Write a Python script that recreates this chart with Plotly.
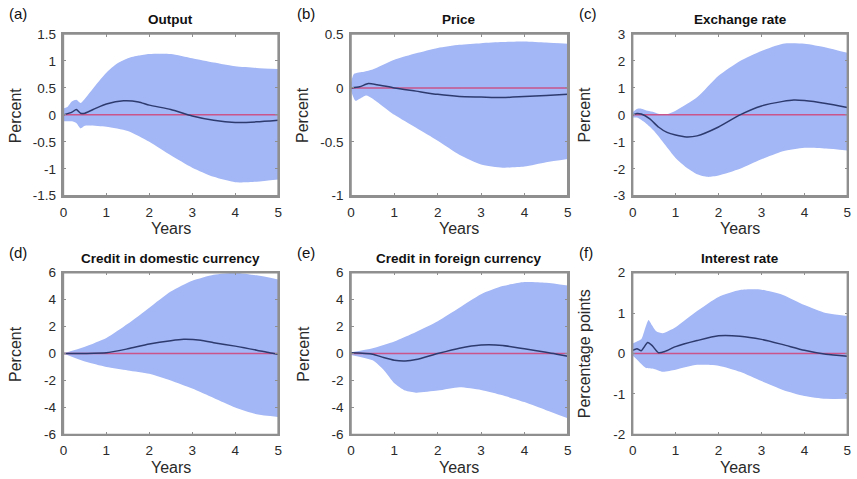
import plotly.graph_objects as go

# ---------------- data ----------------
titles = ["Output", "Price", "Exchange rate", "Credit in domestic currency",
          "Credit in foreign currency", "Interest rate"]
letters = ["(a)", "(b)", "(c)", "(d)", "(e)", "(f)"]
ylabels = ["Percent", "Percent", "Percent", "Percent", "Percent", "Percentage points"]

a_up_x = [0, 0.1, 0.2, 0.3, 0.4, 0.5, 0.75, 1, 1.25, 1.5, 1.75, 2, 2.5, 3, 3.5, 4, 4.5, 5]
a_up_y = [0.12, 0.15, 0.25, 0.28, 0.22, 0.3, 0.55, 0.78, 0.95, 1.05, 1.1, 1.13, 1.13, 1.05, 0.97, 0.9, 0.87, 0.85]
a_lo_x = [0, 0.2, 0.3, 0.4, 0.5, 1, 1.5, 2, 2.5, 3, 3.5, 4, 4.5, 5]
a_lo_y = [-0.12, -0.12, -0.15, -0.25, -0.2, -0.22, -0.3, -0.5, -0.75, -0.98, -1.15, -1.25, -1.24, -1.2]
a_md_x = [0, 0.2, 0.3, 0.4, 0.5, 0.75, 1, 1.4, 1.75, 2, 2.5, 3, 3.5, 4, 4.5, 5]
a_md_y = [0, 0.05, 0.1, 0.03, 0.03, 0.12, 0.2, 0.26, 0.24, 0.18, 0.1, -0.02, -0.1, -0.14, -0.13, -0.1]

b_up_x = [0, 0.07, 0.3, 0.5, 1, 1.5, 2, 2.5, 3, 3.5, 4, 4.5, 5]
b_up_y = [0.05, 0.13, 0.15, 0.17, 0.26, 0.32, 0.37, 0.4, 0.415, 0.425, 0.43, 0.42, 0.41]
b_lo_x = [0, 0.1, 0.2, 0.35, 0.5, 1, 1.5, 2, 2.5, 3, 3.5, 4, 4.5, 5]
b_lo_y = [-0.03, -0.12, -0.1, -0.07, -0.1, -0.25, -0.37, -0.49, -0.62, -0.71, -0.74, -0.73, -0.69, -0.66]
b_md_x = [0, 0.2, 0.4, 0.6, 1, 1.5, 2, 2.5, 3, 3.5, 4, 4.5, 5]
b_md_y = [0, 0.01, 0.04, 0.03, 0.0, -0.03, -0.06, -0.08, -0.085, -0.09, -0.08, -0.07, -0.06]

c_up_x = [0, 0.1, 0.2, 0.35, 0.5, 0.65, 0.8, 1, 1.5, 2, 2.5, 3, 3.5, 4, 4.5, 5]
c_up_y = [0.1, 0.22, 0.23, 0.15, 0.1, 0.02, 0.02, 0.15, 0.65, 1.45, 2.0, 2.37, 2.64, 2.64, 2.5, 2.3]
c_lo_x = [0, 0.1, 0.3, 0.5, 0.75, 1, 1.25, 1.5, 1.75, 2, 2.5, 3, 3.5, 4, 4.5, 5]
c_lo_y = [-0.1, -0.1, -0.3, -0.6, -1.1, -1.6, -1.95, -2.2, -2.3, -2.25, -2.0, -1.65, -1.35, -1.22, -1.25, -1.32]
c_md_x = [0, 0.1, 0.2, 0.4, 0.6, 0.8, 1, 1.25, 1.5, 2, 2.5, 3, 3.5, 3.75, 4, 4.5, 5]
c_md_y = [0, 0.05, 0.03, -0.15, -0.45, -0.65, -0.75, -0.82, -0.78, -0.45, 0.0, 0.33, 0.5, 0.55, 0.53, 0.42, 0.27]

d_up_x = [0, 0.5, 1, 1.5, 2, 2.5, 3, 3.5, 4, 4.5, 5]
d_up_y = [0, 0.5, 1.15, 2.2, 3.4, 4.6, 5.4, 5.85, 6.0, 5.8, 5.5]
d_lo_x = [0, 0.5, 1, 1.5, 2, 2.5, 3, 3.5, 4, 4.5, 5]
d_lo_y = [0, -0.6, -1.0, -1.25, -1.5, -2.0, -2.6, -3.3, -4.0, -4.5, -4.7]
d_md_x = [0, 0.5, 1, 1.5, 2, 2.5, 2.8, 3.2, 3.5, 4, 4.5, 4.8, 5]
d_md_y = [0, 0, 0.05, 0.35, 0.7, 0.95, 1.05, 0.98, 0.8, 0.55, 0.25, 0.05, -0.05]

e_up_x = [0, 0.5, 1, 1.5, 2, 2.5, 3, 3.5, 4, 4.5, 5]
e_up_y = [0.1, 0.4, 0.9, 1.6, 2.4, 3.4, 4.4, 5.0, 5.3, 5.25, 5.05]
e_lo_x = [0, 0.5, 0.75, 1, 1.25, 1.5, 2, 2.5, 3, 3.5, 4, 4.5, 5]
e_lo_y = [-0.1, -0.5, -1.2, -2.2, -2.75, -2.9, -2.75, -2.5, -2.7, -3.1, -3.6, -4.2, -4.8]
e_md_x = [0, 0.5, 0.75, 1, 1.25, 1.5, 2, 2.5, 3, 3.5, 4, 4.5, 4.75, 5]
e_md_y = [0.05, -0.05, -0.3, -0.5, -0.55, -0.45, 0.0, 0.4, 0.63, 0.6, 0.35, 0.1, -0.05, -0.2]

f_up_x = [0, 0.1, 0.2, 0.3, 0.37, 0.45, 0.55, 0.7, 1, 1.5, 2, 2.5, 3, 3.5, 4, 4.5, 5]
f_up_y = [0.25, 0.3, 0.35, 0.65, 0.83, 0.7, 0.55, 0.5, 0.65, 1.05, 1.4, 1.57, 1.58, 1.45, 1.2, 1.0, 0.93]
f_lo_x = [0, 0.1, 0.3, 0.5, 0.7, 1, 1.5, 2, 2.5, 3, 3.5, 4, 4.5, 5]
f_lo_y = [-0.05, -0.15, -0.35, -0.38, -0.45, -0.4, -0.28, -0.3, -0.45, -0.68, -0.9, -1.05, -1.12, -1.12]
f_md_x = [0, 0.1, 0.2, 0.35, 0.45, 0.6, 0.75, 1, 1.5, 2, 2.5, 3, 3.5, 4, 4.5, 5]
f_md_y = [0.08, 0.12, 0.07, 0.27, 0.2, 0.02, 0.05, 0.17, 0.32, 0.44, 0.43, 0.35, 0.22, 0.08, -0.02, -0.07]

panels = [
    (a_up_x, a_up_y, a_lo_x, a_lo_y, a_md_x, a_md_y),
    (b_up_x, b_up_y, b_lo_x, b_lo_y, b_md_x, b_md_y),
    (c_up_x, c_up_y, c_lo_x, c_lo_y, c_md_x, c_md_y),
    (d_up_x, d_up_y, d_lo_x, d_lo_y, d_md_x, d_md_y),
    (e_up_x, e_up_y, e_lo_x, e_lo_y, e_md_x, e_md_y),
    (f_up_x, f_up_y, f_lo_x, f_lo_y, f_md_x, f_md_y),
]

yranges = [[-1.5, 1.5], [-1, 0.5], [-3, 3], [-6, 6], [-6, 6], [-2, 2]]
ytickvals = [
    [-1.5, -1, -0.5, 0, 0.5, 1, 1.5],
    [-1, -0.5, 0, 0.5],
    [-3, -2, -1, 0, 1, 2, 3],
    [-6, -4, -2, 0, 2, 4, 6],
    [-6, -4, -2, 0, 2, 4, 6],
    [-2, -1, 0, 1, 2],
]
yticktext = [
    ["-1.5", "-1", "-0.5", "0", "0.5", "1", "1.5"],
    ["-1", "-0.5", "0", "0.5"],
    ["-3", "-2", "-1", "0", "1", "2", "3"],
    ["-6", "-4", "-2", "0", "2", "4", "6"],
    ["-6", "-4", "-2", "0", "2", "4", "6"],
    ["-2", "-1", "0", "1", "2"],
]
xtickvals = [0, 1, 2, 3, 4, 5]

# ---------------- layout geometry (target pixels) ----------------
W, H = 857, 479
xpix = [(63, 278), (351, 568), (633, 848)]
ypix = [(33, 195), (272, 434)]

FILL = "#a3b6f5"
MED = "#2d3a6e"
ZERO = "#c9558a"
FRAME = "#8f8f8f"
FONT = "Liberation Sans, Arial, sans-serif"

fig = go.Figure()
annotations = []
shapes = []
layout_axes = {}


def px(x):
    # small empirical correction of the photographed placement
    return ((x - 3.5) / 0.992) / W


def py(y):
    return 1 - ((y - 6.0) / 0.97) / H


for i in range(6):
    r, c = divmod(i, 3)
    x0, x1 = xpix[c]
    yt, yb = ypix[r]
    n = "" if i == 0 else str(i + 1)
    xa, ya = "x" + n, "y" + n
    ux, uy, lx, ly, mx, my = panels[i]

    fig.add_trace(go.Scatter(x=ux, y=uy, mode="lines", line=dict(width=0, shape="spline", smoothing=0.6),
                             xaxis=xa, yaxis=ya, showlegend=False, hoverinfo="skip"))
    fig.add_trace(go.Scatter(x=lx, y=ly, mode="lines", line=dict(width=0, shape="spline", smoothing=0.6),
                             fill="tonexty", fillcolor=FILL,
                             xaxis=xa, yaxis=ya, showlegend=False, hoverinfo="skip"))
    fig.add_trace(go.Scatter(x=[0, 5], y=[0, 0], mode="lines", line=dict(color=ZERO, width=1.5),
                             xaxis=xa, yaxis=ya, showlegend=False))
    fig.add_trace(go.Scatter(x=mx, y=my, mode="lines", line=dict(color=MED, width=1.5, shape="spline", smoothing=0.6),
                             xaxis=xa, yaxis=ya, showlegend=False))

    common = dict(showgrid=False, zeroline=False, showline=True, linecolor=FRAME, linewidth=1.5,
                  mirror="ticks", ticks="inside", ticklen=3, tickcolor=FRAME, tickwidth=1.2,
                  ticklabeloverflow="allow", layer="above traces",
                  tickfont=dict(family=FONT, size=13.5, color="#2a2a2a"))
    layout_axes["xaxis" + n] = dict(common, domain=[px(x0), px(x1)], range=[0, 5],
                                    tickvals=xtickvals, anchor=ya, ticklabelstandoff=3)
    layout_axes["yaxis" + n] = dict(common, domain=[py(yb), py(yt)], range=yranges[i],
                                    tickvals=ytickvals[i], ticktext=yticktext[i], anchor=xa,
                                    ticklabelstandoff=3)
    shapes.append(dict(type="rect", xref=xa + " domain", yref=ya + " domain", x0=0, x1=1, y0=0, y1=1,
                       line=dict(color=FRAME, width=1.5), fillcolor="rgba(0,0,0,0)", layer="above"))

    cx = px((x0 + x1) / 2)
    annotations.append(dict(text="<b>" + titles[i] + "</b>", x=cx, y=py(yt - 14), xref="paper", yref="paper",
                            showarrow=False, font=dict(family=FONT, size=13.5, color="#111111"),
                            xanchor="center", yanchor="middle"))
    annotations.append(dict(text=letters[i], x=px(x0 - 56), y=py(yt - 20), xref="paper", yref="paper",
                            showarrow=False, font=dict(family=FONT, size=15, color="#111111"),
                            xanchor="left", yanchor="middle"))
    annotations.append(dict(text="Years", x=cx, y=py(yb + 33), xref="paper", yref="paper",
                            showarrow=False, font=dict(family=FONT, size=16, color="#2a2a2a"),
                            xanchor="center", yanchor="middle"))
    annotations.append(dict(text=ylabels[i], x=px(x0 - 48), y=py((yt + yb) / 2), xref="paper", yref="paper",
                            showarrow=False, textangle=-90, font=dict(family=FONT, size=16, color="#2a2a2a"),
                            xanchor="center", yanchor="middle"))

fig.update_layout(width=W, height=H, margin=dict(l=0, r=0, t=0, b=0),
                  paper_bgcolor="white", plot_bgcolor="white",
                  annotations=annotations, shapes=shapes, **layout_axes)

fig.write_html("out.html", config={"displayModeBar": False},
               post_script="document.body.style.margin='0';document.body.style.overflow='hidden';")
